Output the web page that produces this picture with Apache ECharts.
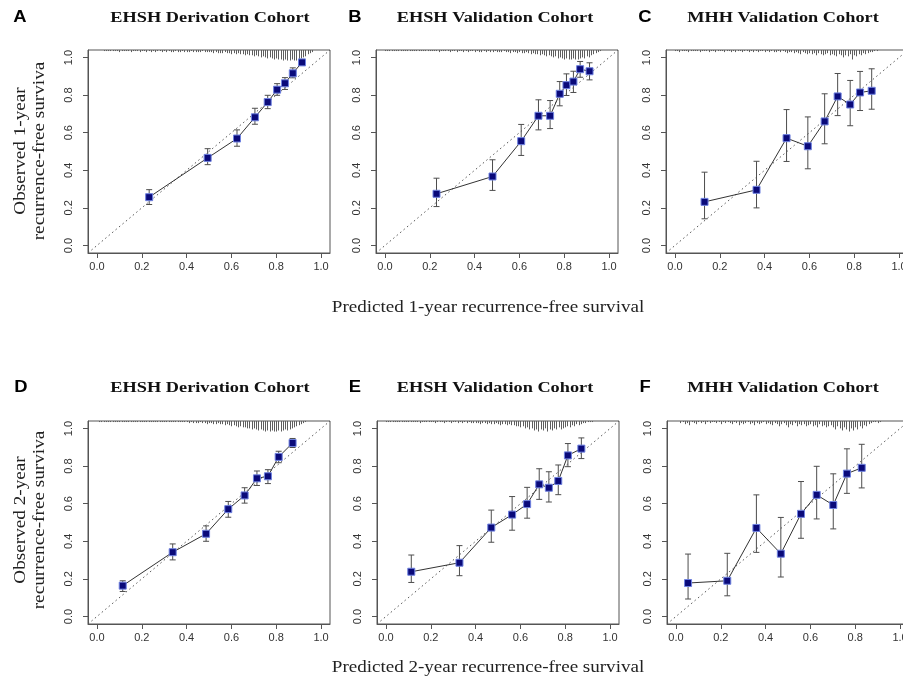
<!DOCTYPE html>
<html>
<head>
<meta charset="utf-8">
<script src="https://cdn.jsdelivr.net/npm/echarts@6/dist/echarts.min.js"></script>
<style>
html, body { margin: 0; padding: 0; background: #fff; }
#calChart { width: 903px; height: 678px; }
</style>
</head>
<body>
<div id="calChart"></div>
<script>
// 校准曲线数据 (predicted / observed / 95% CI)
var predA = [0.233, 0.494, 0.625, 0.705, 0.762, 0.804, 0.839, 0.874, 0.915];
var obsA  = [0.257, 0.466, 0.569, 0.682, 0.763, 0.829, 0.863, 0.916, 0.974];
var loA   = [0.218, 0.430, 0.528, 0.645, 0.728, 0.799, 0.830, 0.892, 0.962];
var hiA   = [0.297, 0.515, 0.615, 0.730, 0.799, 0.861, 0.893, 0.945, 0.987];

var predB = [0.230, 0.480, 0.608, 0.685, 0.737, 0.780, 0.810, 0.841, 0.871, 0.913];
var obsB  = [0.275, 0.367, 0.555, 0.690, 0.690, 0.807, 0.853, 0.872, 0.938, 0.927];
var loB   = [0.207, 0.293, 0.479, 0.615, 0.622, 0.743, 0.798, 0.814, 0.895, 0.881];
var hiB   = [0.358, 0.456, 0.644, 0.775, 0.771, 0.872, 0.913, 0.927, 0.979, 0.972];

var predC = [0.132, 0.364, 0.498, 0.593, 0.668, 0.726, 0.782, 0.826, 0.878];
var obsC  = [0.232, 0.296, 0.571, 0.528, 0.660, 0.793, 0.750, 0.814, 0.823];
var loC   = [0.142, 0.200, 0.447, 0.408, 0.541, 0.691, 0.637, 0.718, 0.725];
var hiC   = [0.390, 0.448, 0.723, 0.684, 0.807, 0.915, 0.878, 0.926, 0.940];

var predD = [0.115, 0.338, 0.487, 0.586, 0.659, 0.714, 0.763, 0.811, 0.873];
var obsD  = [0.164, 0.342, 0.440, 0.571, 0.644, 0.735, 0.746, 0.849, 0.923];
var loD   = [0.133, 0.301, 0.400, 0.528, 0.603, 0.697, 0.707, 0.818, 0.899];
var hiD   = [0.190, 0.386, 0.482, 0.612, 0.685, 0.774, 0.781, 0.879, 0.947];

var predE = [0.113, 0.328, 0.470, 0.563, 0.630, 0.684, 0.727, 0.769, 0.812, 0.872];
var obsE  = [0.238, 0.286, 0.473, 0.542, 0.598, 0.703, 0.685, 0.721, 0.857, 0.893];
var loE   = [0.181, 0.217, 0.395, 0.459, 0.523, 0.623, 0.609, 0.648, 0.797, 0.840];
var hiE   = [0.327, 0.377, 0.566, 0.638, 0.687, 0.786, 0.770, 0.806, 0.920, 0.950];

var predF = [0.054, 0.229, 0.359, 0.468, 0.558, 0.628, 0.702, 0.763, 0.829];
var obsF  = [0.178, 0.190, 0.471, 0.334, 0.546, 0.647, 0.593, 0.760, 0.791];
var loF   = [0.093, 0.110, 0.341, 0.210, 0.416, 0.519, 0.466, 0.655, 0.684];
var hiF   = [0.332, 0.336, 0.647, 0.527, 0.718, 0.799, 0.759, 0.892, 0.916];

// 顶部预测概率分布 (spike histogram), bins of 0.01 from rugStart
var rugStartA = 0.03;
var rugA = [1,1,1,1,1,1,1,2,1,1, 1,1,2,1,1,1,2,1,1,2, 1,2,1,2,1,1,2,1,2,1,
  2,2,1,2,2,1,2,2,2,1, 2,2,2,2,1,2,2,
  2,2,3,2,3,3,3,2,3,3, 4,3,4,3,4,4,5,4,5,5,
  6,5,6,7,6,7,8,7,8,9, 8,9,9,10,9,10,10,9,10,10, 9,8,7,6,4,3,2];
var rugStartB = 0.00;
var rugB = [1,1,1,1,1,1,1,1,1,1, 1,1,1,1,1,1,1,1,1,1, 1,1,1,1,2,1,1,1,1,2,
  1,1,2,1,1,2,1,2,1,1, 2,1,2,2,1,2,1,2,2,1,
  2,2,2,1,2,2,3,2,2,3, 2,3,3,2,3,4,3,4,4,5,
  4,5,6,5,6,7,6,8,7,8, 9,8,9,9,8,9,9,8,7,8, 6,7,5,4,3,2,1];
var rugStartC = 0.00;
var rugC = [1,1,2,1,1,1,2,1,1,1, 1,2,1,1,1,2,1,1,2,1, 1,1,2,1,1,2,1,2,1,1,
  2,1,1,2,1,2,1,2,1,1, 2,1,2,1,2,2,1,2,1,2,
  3,2,2,3,2,3,4,2,3,4, 3,4,3,5,3,4,5,4,3,5,
  4,5,6,4,5,7,5,6,4,9, 5,6,4,5,3,4,3,2,2,1, 1];
var rugStartD = 0.01;
var rugD = [1,1,1,1,1,1,1,1,1,1, 1,1,1,1,1,1,1,1,1,1, 1,1,1,1,1,1,1,1,1,1,
  1,1,1,1,1,1,1,1,1,1,
  2,1,2,2,2,1,2,2,3,2, 2,3,3,2,3,3,
  4,3,4,5,4,5,6,5,6,6,
  7,7,8,7,8,9,8,9,10,9, 10,9,10,10,9,10,9,8,9,8,
  7,6,5,4,3,2,1];
var rugStartE = 0.00;
var rugE = [1,1,1,1,1,1,1,1,1,1, 1,1,1,1,1,2,1,1,1,1, 1,1,2,1,1,1,2,1,1,2,
  1,1,2,1,2,1,2,1,2,2,
  2,2,3,2,2,3,2,3,3,2, 3,4,3,3,4,3,4,4,5,
  5,6,5,7,6,8,7,9,8,10, 8,9,7,10,8,9,7,8,6,8,7,
  6,5,6,4,5,3,4,3,2,2,1,1,1];
var rugStartF = 0.02;
var rugF = [2,1,3,2,4,1,2,3,1,2, 1,3,1,2,1,1,2,1,3,1, 2,1,2,3,1,2,4,2,3,2,
  1,3,2,4,2,3,2,1,3,2,
  3,4,2,3,5,3,2,4,6,3, 4,2,5,3,4,3,5,4,3,5, 4,6,3,5,4,6,5,4,
  6,8,5,7,9,6,8,10,7,9, 6,8,5,7,4,5,3,2,1,1, 2,1];

var tickValues = [0, 0.2, 0.4, 0.6, 0.8, 1.0];
var axisMin = -0.04, axisMax = 1.04;
var rugUnit = 0.0056; // y-units per count

var panels = [
  { letter: "A", title: "EHSH Derivation Cohort", pred: predA, obs: obsA, lo: loA, hi: hiA, rug: rugA, rugStart: rugStartA, left: 88, top: 50, titleX: 210, titleY: 18, letterX: 20 },
  { letter: "B", title: "EHSH Validation Cohort", pred: predB, obs: obsB, lo: loB, hi: hiB, rug: rugB, rugStart: rugStartB, left: 376, top: 50, titleX: 495, titleY: 18, letterX: 355 },
  { letter: "C", title: "MHH Validation Cohort", pred: predC, obs: obsC, lo: loC, hi: hiC, rug: rugC, rugStart: rugStartC, left: 666, top: 50, titleX: 783, titleY: 18, letterX: 645 },
  { letter: "D", title: "EHSH Derivation Cohort", pred: predD, obs: obsD, lo: loD, hi: hiD, rug: rugD, rugStart: rugStartD, left: 88, top: 421, titleX: 210, titleY: 388, letterX: 21 },
  { letter: "E", title: "EHSH Validation Cohort", pred: predE, obs: obsE, lo: loE, hi: hiE, rug: rugE, rugStart: rugStartE, left: 377, top: 421, titleX: 495, titleY: 388, letterX: 355 },
  { letter: "F", title: "MHH Validation Cohort", pred: predF, obs: obsF, lo: loF, hi: hiF, rug: rugF, rugStart: rugStartF, left: 667, top: 421, titleX: 783, titleY: 388, letterX: 645 }
];

function renderErrorBar(params, api) {
  var x = api.value(0);
  var pLo = api.coord([x, api.value(1)]);
  var pHi = api.coord([x, api.value(2)]);
  var cap = 3;
  var style = { stroke: "#4d4d4d", lineWidth: 1 };
  return {
    type: "group",
    children: [
      { type: "line", shape: { x1: pLo[0], y1: pLo[1], x2: pHi[0], y2: pHi[1] }, style: style },
      { type: "line", shape: { x1: pHi[0] - cap, y1: pHi[1], x2: pHi[0] + cap, y2: pHi[1] }, style: style },
      { type: "line", shape: { x1: pLo[0] - cap, y1: pLo[1], x2: pLo[0] + cap, y2: pLo[1] }, style: style }
    ]
  };
}

function renderRug(params, api) {
  var base = api.coord([api.value(0), axisMax]);
  var len = api.size([0, api.value(1) * rugUnit])[1];
  var px = Math.round(base[0]) + 0.5;
  return {
    type: "line",
    shape: { x1: px, y1: base[1], x2: px, y2: base[1] + len },
    style: { stroke: "#5e5e5e", lineWidth: 1 }
  };
}

var grids = [], xAxes = [], yAxes = [], series = [], graphics = [];

panels.forEach(function (p, i) {
  grids.push({
    left: p.left, top: p.top, width: 242, height: 203,
    outerBoundsMode: "none", containLabel: false,
    show: true, borderColor: "#555", borderWidth: 1
  });
  xAxes.push({
    gridIndex: i, type: "value", min: axisMin, max: axisMax,
    splitLine: { show: false },
    axisLine: { show: true, onZero: false, lineStyle: { color: "#555" } },
    axisTick: { show: true, length: 5, customValues: tickValues, lineStyle: { color: "#555" } },
    axisLabel: {
      customValues: tickValues, margin: 8, color: "#333", fontSize: 11,
      fontFamily: "Liberation Sans",
      formatter: function (v) { return v.toFixed(1); }
    }
  });
  yAxes.push({
    gridIndex: i, type: "value", min: axisMin, max: axisMax,
    splitLine: { show: false },
    axisLine: { show: true, onZero: false, lineStyle: { color: "#555" } },
    axisTick: { show: true, length: 5, customValues: tickValues, lineStyle: { color: "#555" } },
    axisLabel: {
      customValues: tickValues, margin: 14, rotate: 90, color: "#333", fontSize: 11,
      fontFamily: "Liberation Sans",
      formatter: function (v) { return v.toFixed(1); }
    }
  });

  // 理想参考线
  series.push({
    type: "line", xAxisIndex: i, yAxisIndex: i,
    data: [[axisMin, axisMin], [axisMax, axisMax]],
    showSymbol: false, silent: true, z: 1,
    lineStyle: { color: "#555", width: 1, type: [1.5, 3] }
  });

  var pts = p.pred.map(function (x, k) { return [x, p.obs[k]]; });
  series.push({
    type: "line", xAxisIndex: i, yAxisIndex: i, data: pts,
    showSymbol: false, z: 2,
    lineStyle: { color: "#333", width: 1 }
  });
  series.push({
    type: "custom", xAxisIndex: i, yAxisIndex: i, z: 3,
    renderItem: renderErrorBar,
    data: p.pred.map(function (x, k) { return [x, p.lo[k], p.hi[k]]; })
  });
  series.push({
    type: "scatter", xAxisIndex: i, yAxisIndex: i, data: pts, z: 4,
    symbol: "rect", symbolSize: 7,
    itemStyle: { color: "#0a0a7a", borderColor: "#6f82e0", borderWidth: 1, opacity: 1 }
  });
  series.push({
    type: "custom", xAxisIndex: i, yAxisIndex: i, z: 2,
    renderItem: renderRug,
    data: p.rug.map(function (c, k) { return [p.rugStart + k * 0.01, c]; })
  });

  graphics.push({
    type: "text", x: p.letterX, y: p.titleY, scaleX: 1.15,
    style: { text: p.letter, font: 'bold 16px "Liberation Sans"', fill: "#000",
      align: "center", verticalAlign: "middle", textAlign: "center", textVerticalAlign: "middle" }
  });
  graphics.push({
    type: "text", x: p.titleX, y: p.titleY, scaleX: 1.22,
    style: { text: p.title, font: 'bold 15px "Liberation Serif"', fill: "#111",
      align: "center", verticalAlign: "middle", textAlign: "center", textVerticalAlign: "middle" }
  });
});

// 坐标轴标题
var xTitles = [
  { text: "Predicted 1-year recurrence-free survival", y: 308 },
  { text: "Predicted 2-year recurrence-free survival", y: 668 }
];
var yTitles = [
  { line1: "Observed 1-year", line2: "recurrence-free surviva", y: 151 },
  { line1: "Observed 2-year", line2: "recurrence-free surviva", y: 520 }
];
xTitles.forEach(function (t) {
  graphics.push({
    type: "text", x: 488, y: t.y, scaleX: 1.19,
    style: { text: t.text, font: '16px "Liberation Serif"', fill: "#222",
      align: "center", verticalAlign: "middle", textAlign: "center", textVerticalAlign: "middle" }
  });
});
yTitles.forEach(function (t) {
  [[t.line1, 21], [t.line2, 40]].forEach(function (ln) {
    graphics.push({
      type: "text", x: ln[1], y: t.y, rotation: Math.PI / 2, scaleX: 1.2,
      style: { text: ln[0], font: '16px "Liberation Serif"', fill: "#222",
        align: "center", verticalAlign: "middle", textAlign: "center", textVerticalAlign: "middle" }
    });
  });
});

var myChart = echarts.init(document.getElementById("calChart"));
myChart.setOption({
  backgroundColor: "#fff",
  animation: false,
  grid: grids,
  xAxis: xAxes,
  yAxis: yAxes,
  series: series,
  graphic: graphics
});
</script>
</body>
</html>
